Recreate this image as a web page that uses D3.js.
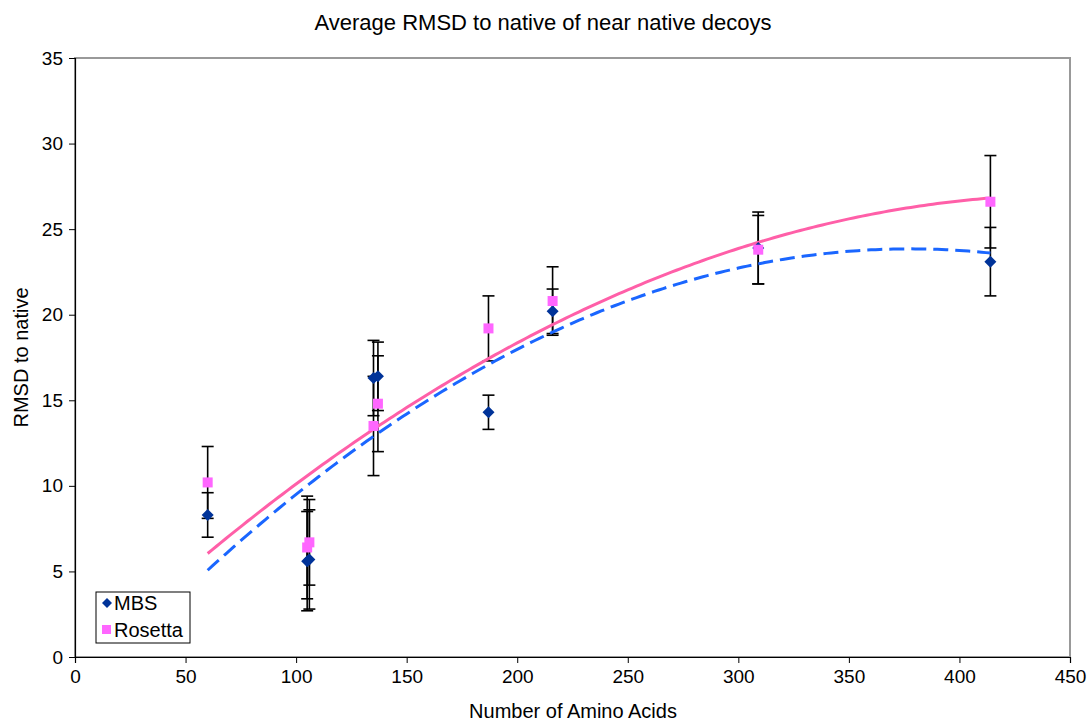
<!DOCTYPE html>
<html>
<head>
  <meta charset="utf-8">
  <title>Average RMSD to native of near native decoys</title>
  <style>
    body { margin: 0; background: #fff; }
    svg text { font-family: "Liberation Sans", Arial, sans-serif; fill: #000; }
  </style>
  <script src="https://d3js.org/d3.v7.min.js"></script>
</head>
<body>
  <svg id="chart" width="1089" height="723"></svg>
  <script>
    // values
    const aminoAcids = [60, 105, 106, 135, 137, 187, 216, 309, 414]
    const mbsRmsd = [8.3, 5.6, 5.7, 16.3, 16.4, 14.3, 20.2, 23.9, 23.1]
    const mbsErr = [1.3, 2.9, 2.9, 2.2, 2.0, 1.0, 1.3, 2.1, 2.0]
    const rosettaRmsd = [10.2, 6.4, 6.7, 13.5, 14.8, 19.2, 20.8, 23.8, 26.6]
    const rosettaErr = [2.1, 3.0, 2.5, 2.9, 2.8, 1.9, 2.0, 2.0, 2.7]
    const xTicks = [0, 50, 100, 150, 200, 250, 300, 350, 400, 450]
    const yTicks = [0, 5, 10, 15, 20, 25, 30, 35]

    const svg = d3.select("#chart")
    const margin = { left: 75, right: 19, top: 58, bottom: 66 }
    const width = 1089, height = 723

    const x = d3.scaleLinear().domain([0, 450]).range([margin.left, width - margin.right])
    const y = d3.scaleLinear().domain([0, 35]).range([height - margin.bottom, margin.top])

    // plot area border (top / right are grey)
    svg.append("rect")
      .attr("x", x(0)).attr("y", y(35))
      .attr("width", x(450) - x(0)).attr("height", y(0) - y(35))
      .attr("fill", "none").attr("stroke", "#999").attr("stroke-width", 2)

    // axes
    const xAxis = svg.append("g")
      .attr("transform", `translate(0,${y(0)})`)
      .call(d3.axisBottom(x).tickValues(xTicks).tickSize(6).tickPadding(7))
    const yAxis = svg.append("g")
      .attr("transform", `translate(${x(0)},0)`)
      .call(d3.axisLeft(y).tickValues(yTicks).tickSize(6).tickPadding(6))
    ;[xAxis, yAxis].forEach(g => {
      g.select(".domain").attr("stroke", "#000").attr("stroke-width", 1.2)
      g.selectAll(".tick line").attr("stroke", "#000")
      g.selectAll(".tick text").style("font-size", "19px").attr("fill", "#000")
    })

    // least squares quadratic fit (Excel polynomial trendline, order 2)
    function polyFit(xs, ys) {
      let s = [0, 0, 0, 0, 0], t = [0, 0, 0]
      xs.forEach((xv, i) => {
        for (let k = 0; k < 5; k++) s[k] += Math.pow(xv, k)
        for (let k = 0; k < 3; k++) t[k] += Math.pow(xv, k) * ys[i]
      })
      const m = [[s[0], s[1], s[2], t[0]], [s[1], s[2], s[3], t[1]], [s[2], s[3], s[4], t[2]]]
      for (let i = 0; i < 3; i++) {
        for (let j = i + 1; j < 3; j++) {
          const f = m[j][i] / m[i][i]
          for (let k = i; k < 4; k++) m[j][k] -= f * m[i][k]
        }
      }
      const c = [0, 0, 0]
      for (let i = 2; i >= 0; i--) {
        let v = m[i][3]
        for (let k = i + 1; k < 3; k++) v -= m[i][k] * c[k]
        c[i] = v / m[i][i]
      }
      return xv => c[0] + c[1] * xv + c[2] * xv * xv
    }

    const xmin = d3.min(aminoAcids), xmax = d3.max(aminoAcids)
    const trendX = d3.range(xmin, xmax + 0.5, 2)
    const line = d3.line().x(d => x(d[0])).y(d => y(d[1]))

    const mbsFit = polyFit(aminoAcids, mbsRmsd)
    const rosFit = polyFit(aminoAcids, rosettaRmsd)

    // error bars
    function errorBars(vals, errs) {
      const g = svg.append("g").attr("stroke", "#000").attr("stroke-width", 1.6)
      aminoAcids.forEach((a, i) => {
        const cx = x(a)
        g.append("line").attr("x1", cx).attr("x2", cx)
          .attr("y1", y(vals[i] - errs[i])).attr("y2", y(vals[i] + errs[i]))
        ;[vals[i] - errs[i], vals[i] + errs[i]].forEach(v => {
          g.append("line").attr("x1", cx - 6).attr("x2", cx + 6)
            .attr("y1", y(v)).attr("y2", y(v))
        })
      })
    }
    errorBars(mbsRmsd, mbsErr)
    errorBars(rosettaRmsd, rosettaErr)

    // trendlines
    svg.append("path")
      .datum(trendX.map(v => [v, rosFit(v)]))
      .attr("d", line).attr("fill", "none")
      .attr("stroke", "#ff5fa8").attr("stroke-width", 3)
    svg.append("path")
      .datum(trendX.map(v => [v, mbsFit(v)]))
      .attr("d", line).attr("fill", "none")
      .attr("stroke", "#1a66ff").attr("stroke-width", 3)
      .attr("stroke-dasharray", "15,7")

    // markers
    const diamond = r => `M0,${-r}L${r},0L0,${r}L${-r},0Z`
    svg.append("g").selectAll("path")
      .data(aminoAcids.map((a, i) => [a, mbsRmsd[i]]))
      .join("path")
      .attr("transform", d => `translate(${x(d[0])},${y(d[1])})`)
      .attr("d", diamond(6)).attr("fill", "#003399")
    svg.append("g").selectAll("rect")
      .data(aminoAcids.map((a, i) => [a, rosettaRmsd[i]]))
      .join("rect")
      .attr("x", d => x(d[0]) - 5).attr("y", d => y(d[1]) - 5)
      .attr("width", 10).attr("height", 10).attr("fill", "#ff66ff")

    // legend
    const lg = svg.append("g").attr("transform", "translate(96,592)")
    lg.append("rect").attr("width", 94).attr("height", 51)
      .attr("fill", "#fff").attr("stroke", "#000").attr("stroke-width", 1)
    lg.append("path").attr("transform", "translate(11,11)")
      .attr("d", diamond(5)).attr("fill", "#003399")
    lg.append("rect").attr("x", 6).attr("y", 33).attr("width", 9).attr("height", 9).attr("fill", "#ff66ff")
    lg.append("text").attr("x", 18).attr("y", 18).style("font-size", "20px").text("MBS")
    lg.append("text").attr("x", 18).attr("y", 45).style("font-size", "20px").text("Rosetta")

    // titles
    svg.append("text").attr("x", 543).attr("y", 30).attr("text-anchor", "middle")
      .style("font-size", "22px").text("Average RMSD to native of near native decoys")
    svg.append("text").attr("x", 573).attr("y", 718).attr("text-anchor", "middle")
      .style("font-size", "20px").text("Number of Amino Acids")
    svg.append("text")
      .attr("transform", `translate(28,${(y(0) + y(35)) / 2}) rotate(-90)`)
      .attr("text-anchor", "middle").style("font-size", "20px").text("RMSD to native")
  </script>
</body>
</html>
